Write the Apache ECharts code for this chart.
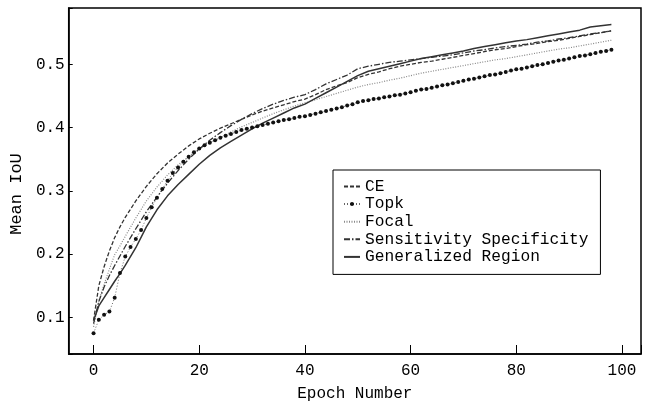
<!DOCTYPE html>
<html>
<head>
<meta charset="utf-8">
<script src="https://cdn.jsdelivr.net/npm/echarts@6/dist/echarts.min.js"></script>
<style>
html, body { margin: 0; padding: 0; background: #fff; }
#main { width: 652px; height: 407px; }
</style>
</head>
<body>
<div id="main"></div>
<script>
// epochs used for the sampled curves
var epochs = [0, 1, 2, 3, 4, 5, 6, 8, 10, 12, 14, 16, 18, 20, 22, 24, 26, 28, 30, 32, 34, 36, 38, 40,
	42, 44, 46, 48, 50, 52, 54, 56, 58, 60, 62, 64, 66, 68, 70, 72, 74, 76, 78, 80, 82, 84, 86, 88,
	90, 92, 94, 96, 98];

var ceValues = [0.095, 0.150, 0.180, 0.205, 0.226, 0.243, 0.258, 0.284, 0.307, 0.327, 0.344, 0.358,
	0.371, 0.382, 0.391, 0.399, 0.406, 0.413, 0.420, 0.426, 0.431, 0.436, 0.441, 0.445, 0.452, 0.460,
	0.466, 0.471, 0.479, 0.484, 0.488, 0.493, 0.497, 0.500, 0.503, 0.505, 0.508, 0.511, 0.514, 0.517,
	0.520, 0.523, 0.525, 0.528, 0.531, 0.533, 0.536, 0.538, 0.541, 0.544, 0.547, 0.550, 0.553];

var focalValues = [0.085, 0.126, 0.152, 0.176, 0.199, 0.213, 0.228, 0.257, 0.284, 0.306, 0.325, 0.341,
	0.354, 0.366, 0.376, 0.384, 0.393, 0.401, 0.408, 0.415, 0.422, 0.428, 0.434, 0.439, 0.444, 0.449,
	0.454, 0.459, 0.464, 0.468, 0.471, 0.475, 0.478, 0.482, 0.486, 0.489, 0.492, 0.495, 0.498, 0.501,
	0.504, 0.507, 0.509, 0.512, 0.515, 0.518, 0.521, 0.524, 0.526, 0.529, 0.532, 0.535, 0.538];

var ssValues = [0.090, 0.125, 0.148, 0.166, 0.182, 0.197, 0.212, 0.240, 0.267, 0.290, 0.312, 0.332,
	0.350, 0.366, 0.380, 0.392, 0.403, 0.413, 0.422, 0.430, 0.437, 0.443, 0.448, 0.452, 0.460, 0.469,
	0.476, 0.483, 0.493, 0.497, 0.500, 0.503, 0.505, 0.507, 0.509, 0.511, 0.513, 0.515, 0.518, 0.521,
	0.523, 0.526, 0.528, 0.530, 0.532, 0.535, 0.537, 0.540, 0.542, 0.545, 0.548, 0.550, 0.553];

var grValues = [0.095, 0.118, 0.131, 0.144, 0.157, 0.169, 0.182, 0.210, 0.243, 0.270, 0.292, 0.310,
	0.326, 0.342, 0.356, 0.368, 0.378, 0.388, 0.398, 0.407, 0.415, 0.423, 0.431, 0.437, 0.446, 0.455,
	0.464, 0.473, 0.482, 0.489, 0.493, 0.497, 0.501, 0.505, 0.509, 0.512, 0.515, 0.518, 0.521, 0.525,
	0.528, 0.531, 0.534, 0.537, 0.539, 0.542, 0.545, 0.548, 0.551, 0.554, 0.559, 0.561, 0.563];

// Topk has a marker on every epoch, 0..98
var topkValues = [0.075, 0.096, 0.104, 0.109, 0.131, 0.170, 0.196, 0.211, 0.224, 0.238,
	0.257, 0.274, 0.289, 0.303, 0.316, 0.328, 0.337, 0.346, 0.354, 0.361,
	0.367, 0.372, 0.376, 0.380, 0.384, 0.387, 0.390, 0.393, 0.396, 0.398,
	0.400, 0.402, 0.404, 0.406, 0.408, 0.410, 0.412, 0.413, 0.415, 0.417,
	0.418, 0.420, 0.422, 0.424, 0.426, 0.428, 0.430, 0.432, 0.435, 0.437,
	0.440, 0.442, 0.443, 0.445, 0.446, 0.448, 0.449, 0.451, 0.452, 0.454,
	0.456, 0.458, 0.460, 0.461, 0.463, 0.465, 0.467, 0.468, 0.470, 0.472,
	0.474, 0.476, 0.477, 0.479, 0.481, 0.483, 0.484, 0.486, 0.488, 0.490,
	0.492, 0.493, 0.495, 0.497, 0.499, 0.500, 0.502, 0.504, 0.506, 0.507,
	0.509, 0.511, 0.513, 0.514, 0.516, 0.518, 0.520, 0.521, 0.523];

var seriesNames = ['CE', 'Topk', 'Focal', 'Sensitivity Specificity', 'Generalized Region'];
var xTicks = [0, 20, 40, 60, 80, 100];
var yTicks = [0.1, 0.2, 0.3, 0.4, 0.5];

var font = '"Liberation Mono", "DejaVu Sans Mono", monospace';

function pairs(xs, ys) {
	return ys.map(function(v, i) { return [xs[i], v]; });
}

function display() {
	var myChart = echarts.init(document.getElementById('main'));

	// only Topk keeps its marker in the legend
	var legendData = seriesNames.map(function(name) {
		return name === 'Topk' ? { name: name } : { name: name, itemStyle: { opacity: 0 } };
	});

	var option = {
		animation: false,
		textStyle: { fontFamily: font },
		grid: {
			left: 66, top: 8, right: 11, bottom: 50,
			show: true, borderColor: '#000', borderWidth: 1.5
		},
		legend: {
			orient: 'vertical',
			left: 333, top: 170,
			padding: [8.5, 12, 9.5, 10],
			itemGap: 1.6,
			itemWidth: 16, itemHeight: 5,
			backgroundColor: '#fff',
			borderColor: '#000', borderWidth: 1,
			textStyle: { fontFamily: font, fontSize: 16.2, color: '#000', lineHeight: 16 },
			data: legendData
		},
		xAxis: {
			type: 'value',
			min: -4.7, max: 103.6,
			splitNumber: 5,
			name: 'Epoch Number',
			nameLocation: 'middle',
			nameGap: 32,
			nameTextStyle: { fontFamily: font, fontSize: 16, color: '#000' },
			axisLine: { onZero: false, lineStyle: { color: '#000', width: 1.5 } },
			axisTick: { inside: true, length: 9, lineStyle: { color: '#000' } },
			axisLabel: {
				margin: 9, fontFamily: font, fontSize: 16, color: '#000',
				formatter: function(v) { return xTicks.indexOf(v) >= 0 ? String(v) : ''; }
			},
			splitLine: { show: false }
		},
		yAxis: {
			type: 'value',
			min: 0.042, max: 0.589,
			splitNumber: 5,
			name: 'Mean IoU',
			nameLocation: 'middle',
			nameGap: 38,
			nameTextStyle: { fontFamily: font, fontSize: 17, color: '#000', padding: [0, 26, 0, 0] },
			axisLine: { onZero: false, lineStyle: { color: '#000', width: 1.5 } },
			axisTick: { inside: true, length: 4, lineStyle: { color: '#000' } },
			axisLabel: {
				margin: 4, fontFamily: font, fontSize: 16, color: '#000',
				formatter: function(v) {
					var r = Math.round(v * 10) / 10;
					return (Math.abs(v - r) < 1e-6 && yTicks.indexOf(r) >= 0) ? r.toFixed(1) : '';
				}
			},
			splitLine: { show: false }
		},
		series: [
			{
				name: 'CE', type: 'line', symbol: 'none',
				data: pairs(epochs, ceValues),
				lineStyle: { color: '#333', width: 1.3, type: [4, 2] },
				itemStyle: { color: '#333' }
			},
			{
				name: 'Topk', type: 'line', symbol: 'circle', symbolSize: 4,
				data: topkValues.map(function(v, i) { return [i, v]; }),
				lineStyle: { color: '#666', width: 1, type: [1, 2] },
				itemStyle: { color: '#111' }
			},
			{
				name: 'Focal', type: 'line', symbol: 'none',
				data: pairs(epochs, focalValues),
				lineStyle: { color: '#888', width: 1.2, type: [1, 1.5] },
				itemStyle: { color: '#888' }
			},
			{
				name: 'Sensitivity Specificity', type: 'line', symbol: 'none',
				data: pairs(epochs, ssValues),
				lineStyle: { color: '#333', width: 1.3, type: [6, 2, 1.5, 2] },
				itemStyle: { color: '#333' }
			},
			{
				name: 'Generalized Region', type: 'line', symbol: 'none',
				data: pairs(epochs, grValues),
				lineStyle: { color: '#333', width: 1.5 },
				itemStyle: { color: '#333' }
			}
		]
	};

	myChart.setOption(option);
}

display();
</script>
</body>
</html>
